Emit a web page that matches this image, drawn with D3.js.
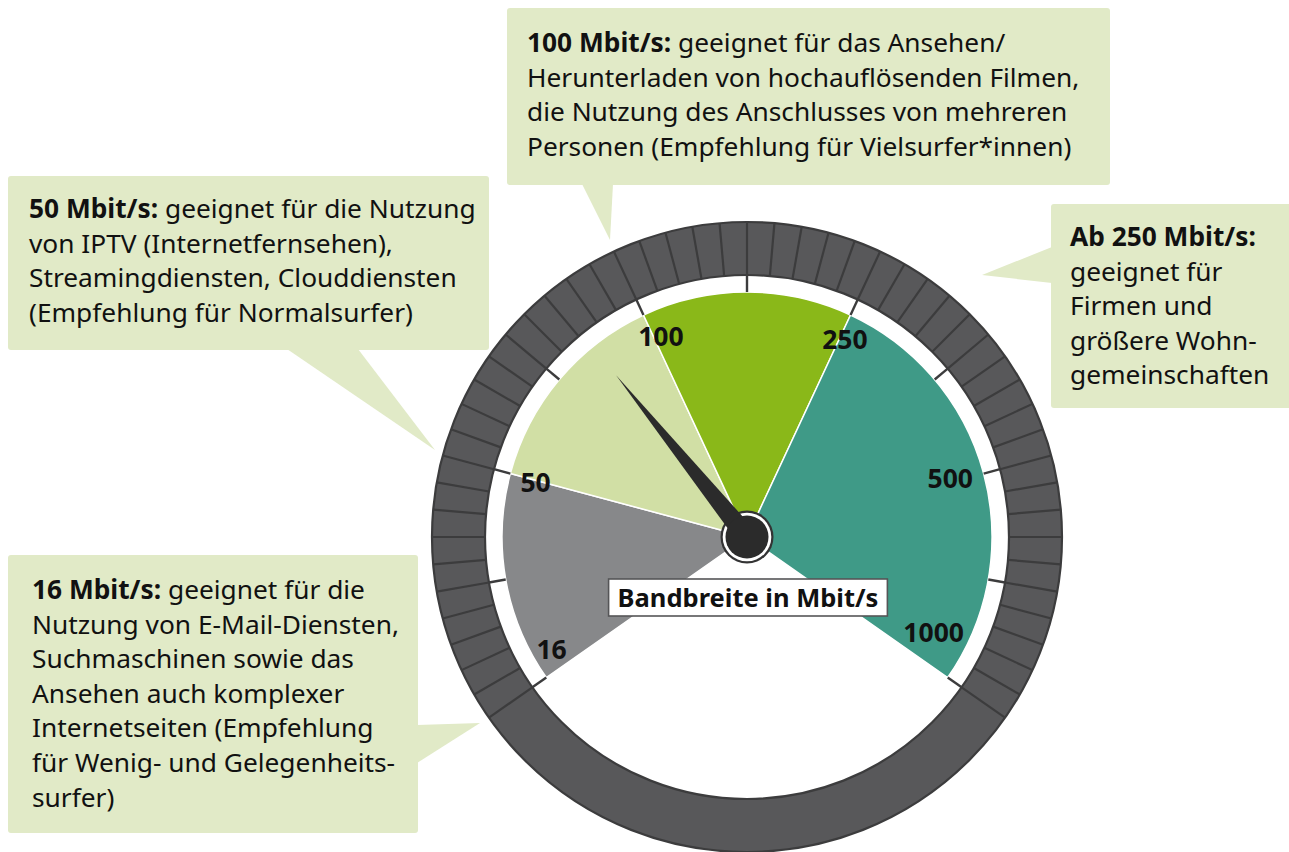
<!DOCTYPE html>
<html><head><meta charset="utf-8">
<script src="https://cdn.jsdelivr.net/npm/d3@7"></script>
<style>html,body{margin:0;padding:0;background:#fff;} svg{display:block;font-family:"Noto Sans",sans-serif;}</style>
</head><body><svg id="c" width="1289" height="852"></svg>
<script>
// ---------- data ----------
const scaleValues = [16, 50, 100, 250, 500, 1000];
const scaleLabels = ["16", "50", "100", "250", "500", "1000"];
const bandStart = [16, 50, 100, 250];
const bandEnd = [50, 100, 250, 1000];
const bandColors = ["#87888a", "#d1dfa5", "#8ab819", "#3f9a87"];
const needleValue = 86;
const ringSegments = 50;
const axisTitle = "Bandbreite in Mbit/s";
const calloutBold = ["100 Mbit/s:", "50 Mbit/s:", "Ab 250 Mbit/s:", "16 Mbit/s:"];
const callout100 = [" geeignet für das Ansehen/", "Herunterladen von hochauflösenden Filmen,", "die Nutzung des Anschlusses von mehreren", "Personen (Empfehlung für Vielsurfer*innen)"];
const callout50 = [" geeignet für die Nutzung", "von IPTV (Internetfernsehen),", "Streamingdiensten, Clouddiensten", "(Empfehlung für Normalsurfer)"];
const callout250 = ["", "geeignet für", "Firmen und", "größere Wohn-", "gemeinschaften"];
const callout16 = [" geeignet für die", "Nutzung von E-Mail-Diensten,", "Suchmaschinen sowie das", "Ansehen auch komplexer", "Internetseiten (Empfehlung", "für Wenig- und Gelegenheits-", "surfer)"];

// ---------- layout ----------
const svg = d3.select("#c");
const cx = 747, cy = 537;
const R_OUT = 315, R_IN = 262, R_SECT = 245;
const FONT = 26.3, LH = 34.6;
const boxFill = "#e1eac7";

const tickAngle = d3.scalePoint().domain(scaleValues).range([-125, 125]);
const valueAngle = d3.scaleLinear().domain(scaleValues).range(scaleValues.map(v => tickAngle(v)));
const segAngle = d3.scaleLinear().domain([0, ringSegments]).range([-125, 125]);
const rad = d => d * Math.PI / 180;
const P = (deg, r) => [cx + r * Math.sin(rad(deg)), cy - r * Math.cos(rad(deg))];

// callouts
const calloutLayout = [
  {x: 507, y: 8, w: 603, h: 177, tx: 527, ty: 52, ptr: [[582, 184], [613, 184], [610, 240]], lines: callout100},
  {x: 8, y: 176, w: 481, h: 174, tx: 29, ty: 218, ptr: [[287, 349], [358, 349], [435, 450]], lines: callout50},
  {x: 1051, y: 204, w: 250, h: 204, tx: 1070, ty: 246, ptr: [[1052, 247], [1052, 283], [982, 275]], lines: callout250},
  {x: 8, y: 555, w: 410, h: 278, tx: 32, ty: 599, ptr: [[417, 725], [417, 763], [480, 723]], lines: callout16}
];
const cg = svg.append("g");
calloutLayout.forEach((c, i) => {
  cg.append("rect").attr("x", c.x).attr("y", c.y).attr("width", c.w).attr("height", c.h)
    .attr("rx", 3).attr("fill", boxFill);
  cg.append("path").attr("d", d3.line()(c.ptr) + "Z").attr("fill", boxFill);
  const t = cg.append("text").attr("font-size", FONT).attr("fill", "#111");
  c.lines.forEach((ln, j) => {
    const tl = t.append("tspan").attr("x", c.tx).attr("y", c.ty + j * LH);
    if (j === 0) {
      tl.append("tspan").attr("font-weight", 700).text(calloutBold[i]);
      if (ln) tl.append("tspan").attr("font-weight", 400).text(ln);
    } else {
      tl.attr("font-weight", 400).text(ln);
    }
  });
});

// ring
const g = svg.append("g");
g.append("path")
  .attr("transform", `translate(${cx},${cy})`)
  .attr("d", d3.arc().innerRadius(R_IN).outerRadius(R_OUT).startAngle(0).endAngle(2 * Math.PI)())
  .attr("fill", "#58585a").attr("stroke", "#3c3c3d").attr("stroke-width", 2.2);

// ring segment lines
d3.range(ringSegments + 1).forEach(i => {
  const a = segAngle(i);
  const p1 = P(a, R_IN), p2 = P(a, R_OUT);
  g.append("line").attr("x1", p1[0]).attr("y1", p1[1]).attr("x2", p2[0]).attr("y2", p2[1])
    .attr("stroke", "#3c3c3d").attr("stroke-width", 2.2);
});

// bands
const bandArc = d3.arc().innerRadius(0).outerRadius(R_SECT);
bandStart.forEach((s, i) => {
  g.append("path").attr("transform", `translate(${cx},${cy})`)
    .attr("d", bandArc({startAngle: rad(valueAngle(s)), endAngle: rad(valueAngle(bandEnd[i]))}))
    .attr("fill", bandColors[i]).attr("stroke", "#fff").attr("stroke-width", 1.5).attr("stroke-linejoin", "round");
});

// major ticks in the white gap
d3.range(0, ringSegments + 1, 5).forEach(i => {
  const a = segAngle(i);
  const p1 = P(a, R_SECT), p2 = P(a, R_IN);
  g.append("line").attr("x1", p1[0]).attr("y1", p1[1]).attr("x2", p2[0]).attr("y2", p2[1])
    .attr("stroke", "#3c3c3d").attr("stroke-width", 2.4);
});

// scale labels
const labelNudge = [5, -0.5, 1.8, 1.3, -1.1, -7.9];
const labelR = [225.6, 218.4, 218.6, 220.9, 211.6, 209.7];
scaleValues.forEach((v, i) => {
  const p = P(tickAngle(v) + labelNudge[i], labelR[i]);
  g.append("text").attr("x", p[0]).attr("y", p[1]).attr("dy", "0.36em")
    .attr("text-anchor", "middle").attr("font-weight", 700).attr("font-size", 26.5)
    .attr("fill", "#111").text(scaleLabels[i]);
});

// axis title box
const tt = g.append("text").attr("x", cx + 1).attr("y", 607).attr("text-anchor", "middle")
  .attr("font-weight", 700).attr("font-size", 25.5).attr("fill", "#111").text(axisTitle);
const bb = tt.node().getBBox();
g.insert("rect", () => tt.node())
  .attr("x", bb.x - 9).attr("y", 579).attr("width", bb.width + 18).attr("height", 37)
  .attr("fill", "#fff").attr("stroke", "#555557").attr("stroke-width", 1.6);

// hub outer
g.append("circle").attr("cx", cx).attr("cy", cy).attr("r", 26.5).attr("fill", "#333334");
g.append("circle").attr("cx", cx).attr("cy", cy).attr("r", 24.3).attr("fill", "#fff");
// needle
const na = valueAngle(needleValue);
const tip = P(na, 208), b1 = P(na - 90, 10.5), b2 = P(na + 90, 10.5);
g.append("path").attr("d", d3.line()([tip, b1, b2]) + "Z").attr("fill", "#2b2b2b");
g.append("circle").attr("cx", cx).attr("cy", cy).attr("r", 21.5).attr("fill", "#2b2b2b");
</script></body></html>
